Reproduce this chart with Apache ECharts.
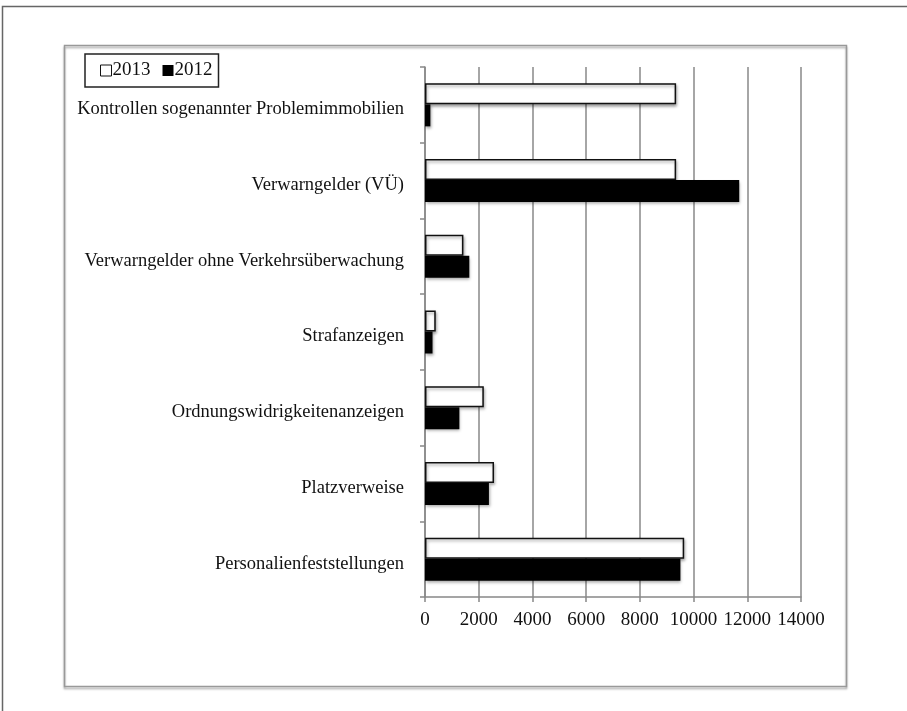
<!DOCTYPE html>
<html>
<head>
<meta charset="utf-8">
<script src="https://cdn.jsdelivr.net/npm/echarts@6/dist/echarts.min.js"></script>
<style>
  html, body { margin: 0; padding: 0; background: #fff; }
  #main { width: 907px; height: 711px; }
</style>
</head>
<body>
<div id="main"></div>
<script>
// Kategorien von oben nach unten
var categories = [
  'Kontrollen sogenannter Problemimmobilien',
  'Verwarngelder (VÜ)',
  'Verwarngelder ohne Verkehrsüberwachung',
  'Strafanzeigen',
  'Ordnungswidrigkeitenanzeigen',
  'Platzverweise',
  'Personalienfeststellungen'
];
var values2013 = [9350, 9350, 1430, 400, 2190, 2570, 9650];
var values2012 = [200, 11700, 1650, 280, 1280, 2380, 9510];
var xTicks = [0, 2000, 4000, 6000, 8000, 10000, 12000, 14000];

var font = 'Liberation Serif, Times New Roman, serif';
var chart = echarts.init(document.getElementById('main'));

var option = {
  animation: false,
  backgroundColor: '#fff',
  textStyle: { fontFamily: font },
  graphic: [
    // äußerer Rahmen
    { type: 'rect', shape: { x: 2.5, y: 6.5, width: 960, height: 760 },
      style: { fill: 'none', stroke: '#666', lineWidth: 1.5 }, silent: true },
    // innerer Rahmen
    { type: 'rect', shape: { x: 64.5, y: 45.5, width: 782, height: 641 },
      style: { fill: 'none', stroke: '#999', lineWidth: 1.5,
               shadowColor: 'rgba(0,0,0,0.35)', shadowBlur: 2, shadowOffsetY: 2 }, silent: true }
  ],
  legend: {
    left: 85, top: 54,
    data: ['2013', '2012'],
    orient: 'horizontal',
    icon: 'rect',
    itemWidth: 11, itemHeight: 11, itemGap: 12,
    padding: [7, 6, 7, 15],
    borderColor: '#222', borderWidth: 1.5,
    textStyle: { fontFamily: font, fontSize: 19, color: '#111', padding: [0, 0, 0, -4] },
    itemStyle: { borderWidth: 1, shadowBlur: 0, shadowOffsetX: 0, shadowOffsetY: 0 }
  },
  grid: { left: 425, right: 106, top: 67, bottom: 114, containLabel: false },
  xAxis: {
    type: 'value', min: 0, max: 14000, interval: 2000,
    axisLine: { show: true, lineStyle: { color: '#888', width: 1.5 } },
    axisTick: { show: true, length: 5, lineStyle: { color: '#888', width: 1.5 } },
    axisLabel: { fontFamily: font, fontSize: 19, color: '#111', margin: 14,
                 formatter: function (v) { return xTicks.indexOf(v) >= 0 ? String(v) : ''; } },
    splitLine: { show: true, lineStyle: { color: '#888', width: 1.5 } }
  },
  yAxis: {
    type: 'category', data: categories, inverse: true,
    axisLine: { show: true, lineStyle: { color: '#888', width: 1.5 } },
    axisTick: { show: true, length: 5, lineStyle: { color: '#888', width: 1.5 } },
    axisLabel: { fontFamily: font, fontSize: 18.5, color: '#111', margin: 21,
                 verticalAlign: 'top', lineHeight: 9 }
  },
  series: [
    {
      name: '2013', type: 'bar', data: values2013,
      barWidth: 21, barGap: '0%',
      itemStyle: { color: '#fff', borderColor: '#111', borderWidth: 1.5,
                   shadowColor: 'rgba(0,0,0,0.35)', shadowBlur: 3, shadowOffsetX: 1, shadowOffsetY: 2 }
    },
    {
      name: '2012', type: 'bar', data: values2012,
      barWidth: 22, barGap: '0%',
      itemStyle: { color: '#000',
                   shadowColor: 'rgba(0,0,0,0.35)', shadowBlur: 3, shadowOffsetX: 1, shadowOffsetY: 2 }
    }
  ]
};
chart.setOption(option);
</script>
</body>
</html>
